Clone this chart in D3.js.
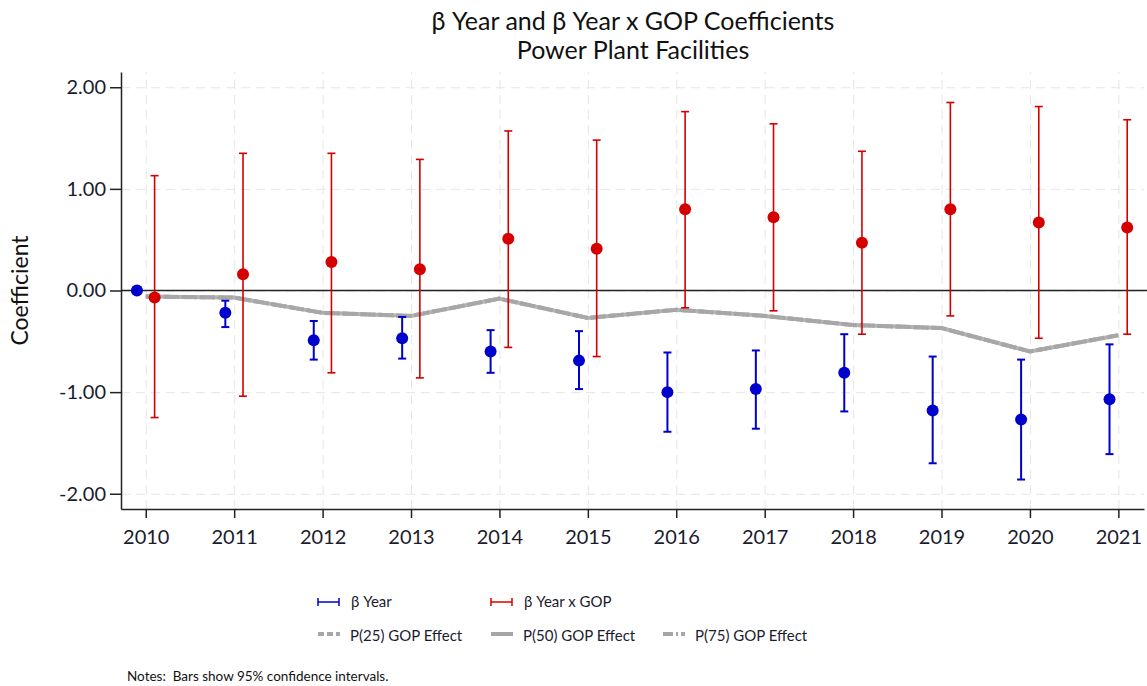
<!DOCTYPE html>
<html>
<head>
<meta charset="utf-8">
<script src="https://d3js.org/d3.v7.min.js"></script>
<style>
  body { margin: 0; background: #fff; }
  svg { font-family: Lato, "Open Sans", sans-serif; }
  .grid line { stroke: #e6e6e6; stroke-dasharray: 9,6; }
  .grid .domain { stroke: none; }
</style>
</head>
<body>
<svg id="chart" width="1147" height="686"></svg>
<script>
// data
const years = [2010, 2011, 2012, 2013, 2014, 2015, 2016, 2017, 2018, 2019, 2020, 2021];

const yearCoef = [0.00, -0.22, -0.49, -0.47, -0.60, -0.69, -1.00, -0.97, -0.81, -1.18, -1.27, -1.07];
const yearLo   = [0.00, -0.36, -0.68, -0.67, -0.81, -0.97, -1.39, -1.36, -1.19, -1.70, -1.86, -1.61];
const yearHi   = [0.00, -0.10, -0.30, -0.26, -0.39, -0.40, -0.61, -0.59, -0.43, -0.65, -0.68, -0.53];

const gopCoef = [-0.07, 0.16, 0.28, 0.21, 0.51, 0.41, 0.80, 0.72, 0.47, 0.80, 0.67, 0.62];
const gopLo   = [-1.25, -1.04, -0.81, -0.86, -0.56, -0.65, -0.17, -0.20, -0.43, -0.25, -0.47, -0.43];
const gopHi   = [1.13, 1.35, 1.35, 1.29, 1.57, 1.48, 1.76, 1.64, 1.37, 1.85, 1.81, 1.68];

// the three percentile effects overlap in the picture
const p25Effect = [-0.06, -0.07, -0.22, -0.25, -0.08, -0.27, -0.19, -0.25, -0.34, -0.37, -0.60, -0.44];
const p50Effect = [-0.06, -0.07, -0.22, -0.25, -0.08, -0.27, -0.19, -0.25, -0.34, -0.37, -0.60, -0.44];
const p75Effect = [-0.06, -0.07, -0.22, -0.25, -0.08, -0.27, -0.19, -0.25, -0.34, -0.37, -0.60, -0.44];

const yTicks = [-2, -1, 0, 1, 2];

const svg = d3.select("#chart");
const margin = {top: 72, right: 3, bottom: 177, left: 121};
const width = +svg.attr("width");
const height = +svg.attr("height");

const x = d3.scaleLinear()
            .domain([2009.72, 2021.29])
            .range([margin.left, width - margin.right]);
const y = d3.scaleLinear()
            .domain([-2.15, 2.15])
            .range([height - margin.bottom, margin.top]);

const blue = "#0000cc", red = "#d40000", gray = "#a6a6a6";

// gridlines
svg.append("g")
   .attr("class", "grid")
   .attr("transform", `translate(0, ${height - margin.bottom})`)
   .call(d3.axisBottom(x).tickValues(years).tickSize(-(height - margin.bottom - margin.top)).tickFormat(""));
svg.append("g")
   .attr("class", "grid")
   .attr("transform", `translate(${margin.left}, 0)`)
   .call(d3.axisLeft(y).tickValues(yTicks).tickSize(-(width - margin.left - margin.right)).tickFormat(""));

// zero line
svg.append("line")
   .attr("x1", margin.left).attr("x2", width)
   .attr("y1", y(0)).attr("y2", y(0))
   .attr("stroke", "#222").attr("stroke-width", 1.3);

// GOP effect lines
const line = d3.line().x((d, i) => x(years[i])).y(d => y(d));
const effects = [
  {vals: p25Effect, dash: "6,3"},
  {vals: p50Effect, dash: null},
  {vals: p75Effect, dash: "10,3,2,3"}
];
effects.forEach(e => {
  svg.append("path")
     .attr("d", line(e.vals))
     .attr("fill", "none")
     .attr("stroke", gray)
     .attr("stroke-opacity", 0.85)
     .attr("stroke-width", 4)
     .attr("stroke-dasharray", e.dash);
});

// error bars + points
function drawSeries(coef, lo, hi, off, color, sw, skipZero) {
  const g = svg.append("g");
  years.forEach((yr, i) => {
    const cx = x(yr + off);
    if (!(skipZero && lo[i] === hi[i])) {
      g.append("line").attr("x1", cx).attr("x2", cx)
       .attr("y1", y(lo[i])).attr("y2", y(hi[i]))
       .attr("stroke", color).attr("stroke-width", sw);
      [lo[i], hi[i]].forEach(v => {
        g.append("line").attr("x1", cx - 4).attr("x2", cx + 4)
         .attr("y1", y(v)).attr("y2", y(v))
         .attr("stroke", color).attr("stroke-width", sw);
      });
    }
    g.append("circle").attr("cx", cx).attr("cy", y(coef[i])).attr("r", 6).attr("fill", color);
  });
}
drawSeries(yearCoef, yearLo, yearHi, -0.1, blue, 2, true);
drawSeries(gopCoef, gopLo, gopHi, 0.1, red, 1.6, false);

// axes
const fmt = d => d3.format(".2f")(d).replace("\u2212", "-");
const xAxis = svg.append("g")
   .attr("transform", `translate(0, ${height - margin.bottom})`)
   .call(d3.axisBottom(x).tickValues(years).tickSize(9).tickPadding(12).tickSizeOuter(0).tickFormat(d3.format("d")));
const yAxis = svg.append("g")
   .attr("transform", `translate(${margin.left}, 0)`)
   .call(d3.axisLeft(y).tickValues(yTicks).tickSize(11).tickPadding(4).tickSizeOuter(0).tickFormat(fmt));
[xAxis, yAxis].forEach(a => {
  a.select(".domain").attr("stroke", "#222").attr("stroke-width", 1.5);
  a.selectAll(".tick line").attr("stroke", "#222").attr("stroke-width", 1.5);
  a.selectAll("text").attr("font-size", 20).attr("fill", "#1b1b2e").attr("font-family", "Lato, sans-serif");
});
xAxis.selectAll("text").attr("dy", "0.71em");

// titles
svg.append("text").attr("x", 633).attr("y", 30).attr("text-anchor", "middle")
   .attr("font-size", 25).attr("fill", "#111").text("β Year and β Year x GOP Coefficients");
svg.append("text").attr("x", 633).attr("y", 59).attr("text-anchor", "middle")
   .attr("font-size", 25).attr("fill", "#111").text("Power Plant Facilities");
svg.append("text").attr("transform", `translate(28, ${y(0)}) rotate(-90)`)
   .attr("text-anchor", "middle").attr("font-size", 23).attr("fill", "#111").text("Coefficient");

// legend
const legendItems = [
  {label: "β Year", color: blue, type: "bar", lx: 318, ly: 602},
  {label: "β Year x GOP", color: red, type: "bar", lx: 491, ly: 602},
  {label: "P(25) GOP Effect", color: gray, type: "line", dash: "6,3", lx: 318, ly: 636},
  {label: "P(50) GOP Effect", color: gray, type: "line", dash: null, lx: 491, ly: 636},
  {label: "P(75) GOP Effect", color: gray, type: "line", dash: "10,3,2,3", lx: 663, ly: 636}
];
legendItems.forEach(d => {
  const g = svg.append("g").attr("transform", `translate(${d.lx}, ${d.ly})`);
  if (d.type === "bar") {
    g.append("line").attr("x1", 0).attr("x2", 21).attr("y1", 0).attr("y2", 0).attr("stroke", d.color).attr("stroke-width", 1.5);
    g.append("line").attr("x1", 0).attr("x2", 0).attr("y1", -4).attr("y2", 4).attr("stroke", d.color).attr("stroke-width", 1.5);
    g.append("line").attr("x1", 21).attr("x2", 21).attr("y1", -4).attr("y2", 4).attr("stroke", d.color).attr("stroke-width", 1.5);
  } else {
    g.append("line").attr("x1", 0).attr("x2", 22).attr("y1", -2).attr("y2", -2)
     .attr("stroke", d.color).attr("stroke-width", 4).attr("stroke-dasharray", d.dash);
  }
  g.append("text").attr("x", d.type === "bar" ? 33 : 32).attr("y", 0).attr("dy", "0.35em")
   .attr("font-size", 15).attr("fill", "#1b1b2e").text(d.label);
});

svg.append("text").attr("x", 127).attr("y", 681).attr("font-size", 13.5).attr("fill", "#111")
   .style("white-space", "pre")
   .text("Notes:  Bars show 95% confidence intervals.");
</script>
</body>
</html>
